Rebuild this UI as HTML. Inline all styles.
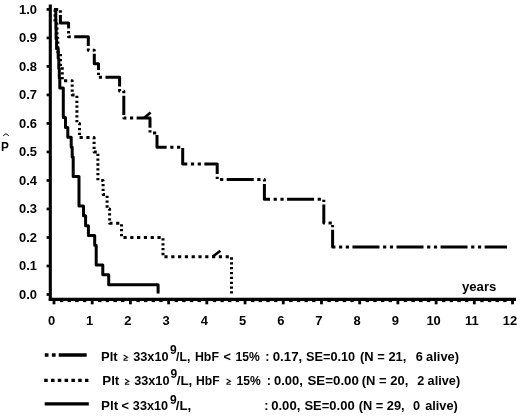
<!DOCTYPE html>
<html><head><meta charset="utf-8"><style>
html,body{margin:0;padding:0;background:#fff;}
body{width:520px;height:416px;overflow:hidden;}
svg{display:block;filter:blur(0.35px);}
</style></head><body>
<svg width="520" height="416" viewBox="0 0 520 416">
<rect width="520" height="416" fill="#fff"/>
<path d="M50.3,4.6 V301" stroke="#000" stroke-width="3.1" fill="none"/>
<path d="M48.8,299.45 H516" stroke="#000" stroke-width="3.3" fill="none"/>
<rect x="46.6" y="8.05" width="2.6" height="2.7" fill="#000"/>
<rect x="46.6" y="36.56" width="2.6" height="2.7" fill="#000"/>
<rect x="46.6" y="65.07" width="2.6" height="2.7" fill="#000"/>
<rect x="46.6" y="93.58" width="2.6" height="2.7" fill="#000"/>
<rect x="46.6" y="122.09" width="2.6" height="2.7" fill="#000"/>
<rect x="46.6" y="150.60" width="2.6" height="2.7" fill="#000"/>
<rect x="46.6" y="179.11" width="2.6" height="2.7" fill="#000"/>
<rect x="46.6" y="207.62" width="2.6" height="2.7" fill="#000"/>
<rect x="46.6" y="236.13" width="2.6" height="2.7" fill="#000"/>
<rect x="46.6" y="264.64" width="2.6" height="2.7" fill="#000"/>
<rect x="46.6" y="293.15" width="2.6" height="2.7" fill="#000"/>
<rect x="52.60" y="300" width="2.8" height="4.3" fill="#000"/>
<rect x="90.81" y="300" width="2.8" height="4.3" fill="#000"/>
<rect x="129.02" y="300" width="2.8" height="4.3" fill="#000"/>
<rect x="167.23" y="300" width="2.8" height="4.3" fill="#000"/>
<rect x="205.44" y="300" width="2.8" height="4.3" fill="#000"/>
<rect x="243.65" y="300" width="2.8" height="4.3" fill="#000"/>
<rect x="281.86" y="300" width="2.8" height="4.3" fill="#000"/>
<rect x="320.07" y="300" width="2.8" height="4.3" fill="#000"/>
<rect x="358.28" y="300" width="2.8" height="4.3" fill="#000"/>
<rect x="396.49" y="300" width="2.8" height="4.3" fill="#000"/>
<rect x="434.70" y="300" width="2.8" height="4.3" fill="#000"/>
<rect x="472.91" y="300" width="2.8" height="4.3" fill="#000"/>
<rect x="511.12" y="300" width="2.8" height="4.3" fill="#000"/>
<rect x="59.94" y="300.5" width="3.4" height="1.6" fill="#000"/>
<rect x="67.58" y="300.5" width="3.4" height="1.6" fill="#000"/>
<rect x="75.23" y="300.5" width="3.4" height="1.6" fill="#000"/>
<rect x="82.87" y="300.5" width="3.4" height="1.6" fill="#000"/>
<rect x="98.15" y="300.5" width="3.4" height="1.6" fill="#000"/>
<rect x="105.79" y="300.5" width="3.4" height="1.6" fill="#000"/>
<rect x="113.44" y="300.5" width="3.4" height="1.6" fill="#000"/>
<rect x="121.08" y="300.5" width="3.4" height="1.6" fill="#000"/>
<rect x="136.36" y="300.5" width="3.4" height="1.6" fill="#000"/>
<rect x="144.00" y="300.5" width="3.4" height="1.6" fill="#000"/>
<rect x="151.65" y="300.5" width="3.4" height="1.6" fill="#000"/>
<rect x="159.29" y="300.5" width="3.4" height="1.6" fill="#000"/>
<rect x="174.57" y="300.5" width="3.4" height="1.6" fill="#000"/>
<rect x="182.21" y="300.5" width="3.4" height="1.6" fill="#000"/>
<rect x="189.86" y="300.5" width="3.4" height="1.6" fill="#000"/>
<rect x="197.50" y="300.5" width="3.4" height="1.6" fill="#000"/>
<rect x="212.78" y="300.5" width="3.4" height="1.6" fill="#000"/>
<rect x="220.42" y="300.5" width="3.4" height="1.6" fill="#000"/>
<rect x="228.07" y="300.5" width="3.4" height="1.6" fill="#000"/>
<rect x="235.71" y="300.5" width="3.4" height="1.6" fill="#000"/>
<rect x="250.99" y="300.5" width="3.4" height="1.6" fill="#000"/>
<rect x="258.63" y="300.5" width="3.4" height="1.6" fill="#000"/>
<rect x="266.28" y="300.5" width="3.4" height="1.6" fill="#000"/>
<rect x="273.92" y="300.5" width="3.4" height="1.6" fill="#000"/>
<rect x="289.20" y="300.5" width="3.4" height="1.6" fill="#000"/>
<rect x="296.84" y="300.5" width="3.4" height="1.6" fill="#000"/>
<rect x="304.49" y="300.5" width="3.4" height="1.6" fill="#000"/>
<rect x="312.13" y="300.5" width="3.4" height="1.6" fill="#000"/>
<rect x="327.41" y="300.5" width="3.4" height="1.6" fill="#000"/>
<rect x="335.05" y="300.5" width="3.4" height="1.6" fill="#000"/>
<rect x="342.70" y="300.5" width="3.4" height="1.6" fill="#000"/>
<rect x="350.34" y="300.5" width="3.4" height="1.6" fill="#000"/>
<rect x="365.62" y="300.5" width="3.4" height="1.6" fill="#000"/>
<rect x="373.26" y="300.5" width="3.4" height="1.6" fill="#000"/>
<rect x="380.91" y="300.5" width="3.4" height="1.6" fill="#000"/>
<rect x="388.55" y="300.5" width="3.4" height="1.6" fill="#000"/>
<rect x="403.83" y="300.5" width="3.4" height="1.6" fill="#000"/>
<rect x="411.47" y="300.5" width="3.4" height="1.6" fill="#000"/>
<rect x="419.12" y="300.5" width="3.4" height="1.6" fill="#000"/>
<rect x="426.76" y="300.5" width="3.4" height="1.6" fill="#000"/>
<rect x="442.04" y="300.5" width="3.4" height="1.6" fill="#000"/>
<rect x="449.68" y="300.5" width="3.4" height="1.6" fill="#000"/>
<rect x="457.33" y="300.5" width="3.4" height="1.6" fill="#000"/>
<rect x="464.97" y="300.5" width="3.4" height="1.6" fill="#000"/>
<rect x="480.25" y="300.5" width="3.4" height="1.6" fill="#000"/>
<rect x="487.89" y="300.5" width="3.4" height="1.6" fill="#000"/>
<rect x="495.54" y="300.5" width="3.4" height="1.6" fill="#000"/>
<rect x="503.18" y="300.5" width="3.4" height="1.6" fill="#000"/>
<path d="M54,9.4 H55.8 V19.2 H55.9 V29.1 H56.1 V38.9 H56.6 V48.7 H58.2 V58.6 H58.8 V68.4 H59.3 V78.2 H59.8 V88.0 H63.3 V117.5 H65.5 V127.4 H67.8 V137.2 H71.2 V147.0 H72.2 V156.9 H73.2 V176.5 H79 V206.0 H83.5 V215.8 H85.6 V225.7 H88.4 V235.5 H94.7 V245.3 H96.2 V265.0 H102.8 V274.8 H108.7 V284.7 H158.1 V293.5" stroke="#000" stroke-width="3" fill="none" stroke-linejoin="round"/>
<path d="M55.00,9.44 L55.00,11.72 M55.00,14.29 L55.00,16.58 M55.00,19.15 L55.00,21.44 M55.43,23.70 L57.00,23.70 L57.00,24.86 M57.00,27.44 L57.00,29.72 M57.00,32.29 L57.00,34.58 M57.00,37.15 L57.00,37.90 L57.80,37.90 L57.80,38.86 M57.80,41.44 L57.80,43.72 M57.80,46.29 L57.80,48.58 M57.80,51.15 L57.80,52.20 L59.53,52.20 M60.50,54.08 L60.50,56.36 M60.50,58.94 L60.50,61.22 M60.50,63.79 L60.50,66.08 M62.30,67.36 L62.30,69.65 M62.30,72.22 L62.30,74.51 M62.30,77.08 L62.30,79.36 M64.03,80.70 L67.23,80.70 M70.83,80.70 L72.20,80.70 L72.20,82.01 M72.20,84.58 L72.20,86.86 M72.20,89.44 L72.20,91.72 M72.20,94.29 L72.20,94.90 L74.55,94.90 M76.90,95.79 L76.90,98.08 M76.90,100.65 L76.90,102.94 M76.90,105.51 L76.90,107.79 M76.90,110.36 L76.90,112.65 M76.90,115.22 L76.90,117.51 M76.90,120.08 L76.90,122.36 M79.05,123.40 L79.50,123.40 L79.50,125.36 M79.50,127.94 L79.50,130.22 M79.50,132.79 L79.50,135.08 M79.57,137.60 L82.77,137.60 M86.37,137.60 L89.57,137.60 M93.17,137.60 L94.10,137.60 L94.10,139.22 M94.10,141.79 L94.10,144.08 M94.10,146.65 L94.10,148.94 M94.10,151.51 L94.10,151.90 L96.75,151.90 M97.90,153.65 L97.90,155.94 M97.90,158.51 L97.90,160.79 M97.90,163.36 L97.90,165.65 M97.90,168.22 L97.90,170.51 M97.90,173.08 L97.90,175.36 M97.90,177.94 L97.90,180.22 M101.25,180.40 L103.10,180.40 L103.10,181.36 M103.10,183.94 L103.10,186.22 M103.10,188.79 L103.10,191.08 M103.10,193.65 L103.10,194.60 L104.97,194.60 M107.10,195.65 L107.10,197.94 M107.10,200.51 L107.10,202.79 M107.10,205.36 L107.10,207.65 M108.95,208.90 L109.60,208.90 L109.60,210.72 M109.60,213.29 L109.60,215.58 M109.60,218.15 L109.60,220.44 M109.60,223.01 L109.60,223.20 L112.53,223.20 M116.13,223.20 L119.33,223.20 M121.50,224.22 L121.50,226.51 M121.50,229.08 L121.50,231.36 M121.50,233.94 L121.50,236.22 M123.45,237.40 L126.65,237.40 M130.25,237.40 L133.45,237.40 M137.05,237.40 L140.25,237.40 M143.85,237.40 L147.05,237.40 M150.65,237.40 L153.85,237.40 M157.45,237.40 L160.65,237.40 M163.00,238.29 L163.00,240.58 M163.00,243.15 L163.00,245.44 M163.00,248.01 L163.00,250.29 M163.00,252.86 L163.00,255.15 M164.43,256.70 L167.63,256.70 M171.23,256.70 L174.43,256.70 M178.03,256.70 L181.23,256.70 M184.83,256.70 L188.03,256.70 M191.63,256.70 L194.83,256.70 M198.43,256.70 L201.63,256.70 M205.23,256.70 L208.43,256.70 M212.03,256.70 L215.23,256.70 M218.83,256.70 L222.03,256.70 M225.63,256.70 L228.83,256.70 M231.50,257.36 L231.50,259.65 M231.50,262.22 L231.50,264.51 M231.50,267.08 L231.50,269.36 M231.50,271.94 L231.50,274.22 M231.50,276.79 L231.50,279.08 M231.50,281.65 L231.50,283.94 M231.50,286.51 L231.50,288.79 M231.50,291.36 L231.50,293.50" stroke="#000" stroke-width="3" fill="none" stroke-linejoin="round"/>
<path d="M54.95,9.40 L58.15,9.40 M60.40,10.36 L60.40,12.65 M60.40,15.11 L60.40,23.10 L68.60,23.10 L68.60,28.54 M68.60,31.11 L68.60,33.40 M68.60,35.97 L68.60,36.70 L70.78,36.70 M74.23,36.70 L88.30,36.70 L88.30,45.94 M88.30,48.51 L88.30,50.20 L89.13,50.20 M92.73,50.20 L94.30,50.20 L94.30,51.36 M94.30,53.83 L94.30,63.70 L98.50,63.70 L98.50,70.11 M98.50,72.69 L98.50,74.97 M98.84,77.30 L102.04,77.30 M105.49,77.30 L119.60,77.30 L119.60,86.51 M119.60,89.08 L119.60,91.00 L120.11,91.00 M123.71,91.00 L123.80,91.00 L123.80,93.22 M123.80,95.69 L123.80,114.97 M123.80,117.54 L123.80,118.00 L126.36,118.00 M129.96,118.00 L133.16,118.00 M136.61,118.00 L150.00,118.00 L150.00,127.72 M150.00,130.29 L150.00,132.58 M153.01,133.00 L156.21,133.00 M157.00,134.90 L157.00,147.30 L166.64,147.30 M170.24,147.30 L173.44,147.30 M177.04,147.30 L180.24,147.30 M182.70,148.01 L182.70,164.00 L187.31,164.00 M190.91,164.00 L194.11,164.00 M197.71,164.00 L200.91,164.00 M204.36,164.00 L217.20,164.00 L217.20,174.11 M217.20,176.69 L217.20,178.97 M220.06,179.50 L223.26,179.50 M226.71,179.50 L253.71,179.50 M257.31,179.50 L260.51,179.50 M264.11,179.50 L264.40,179.50 L264.40,181.58 M264.40,184.04 L264.40,199.30 L270.04,199.30 M273.64,199.30 L276.84,199.30 M280.44,199.30 L283.64,199.30 M287.09,199.30 L314.09,199.30 M317.69,199.30 L320.89,199.30 M323.80,199.79 L323.80,202.08 M323.80,204.54 L323.80,223.00 L324.96,223.00 M328.56,223.00 L331.76,223.00 M332.60,224.97 L332.60,227.26 M332.60,229.72 L332.60,247.00 L335.41,247.00 M339.01,247.00 L342.21,247.00 M345.81,247.00 L349.01,247.00 M352.46,247.00 L379.46,247.00 M383.06,247.00 L386.26,247.00 M389.86,247.00 L393.06,247.00 M396.51,247.00 L423.51,247.00 M427.11,247.00 L430.31,247.00 M433.91,247.00 L437.11,247.00 M440.56,247.00 L467.56,247.00 M471.16,247.00 L474.36,247.00 M477.96,247.00 L481.16,247.00 M484.61,247.00 L507.00,247.00" stroke="#000" stroke-width="3" fill="none" stroke-linejoin="round"/>
<path d="M144,118 L150.6,112.4" stroke="#000" stroke-width="2.6"/>
<path d="M212.5,256.7 L220.4,250.8" stroke="#000" stroke-width="2.6"/>
<text transform="translate(37.00,13.70) scale(1.08,1)" font-family="Liberation Sans, sans-serif" font-weight="bold" font-size="12" text-anchor="end" xml:space="preserve">1.0</text>
<text transform="translate(37.00,42.21) scale(1.08,1)" font-family="Liberation Sans, sans-serif" font-weight="bold" font-size="12" text-anchor="end" xml:space="preserve">0.9</text>
<text transform="translate(37.00,70.72) scale(1.08,1)" font-family="Liberation Sans, sans-serif" font-weight="bold" font-size="12" text-anchor="end" xml:space="preserve">0.8</text>
<text transform="translate(37.00,99.23) scale(1.08,1)" font-family="Liberation Sans, sans-serif" font-weight="bold" font-size="12" text-anchor="end" xml:space="preserve">0.7</text>
<text transform="translate(37.00,127.74) scale(1.08,1)" font-family="Liberation Sans, sans-serif" font-weight="bold" font-size="12" text-anchor="end" xml:space="preserve">0.6</text>
<text transform="translate(37.00,156.25) scale(1.08,1)" font-family="Liberation Sans, sans-serif" font-weight="bold" font-size="12" text-anchor="end" xml:space="preserve">0.5</text>
<text transform="translate(37.00,184.76) scale(1.08,1)" font-family="Liberation Sans, sans-serif" font-weight="bold" font-size="12" text-anchor="end" xml:space="preserve">0.4</text>
<text transform="translate(37.00,213.27) scale(1.08,1)" font-family="Liberation Sans, sans-serif" font-weight="bold" font-size="12" text-anchor="end" xml:space="preserve">0.3</text>
<text transform="translate(37.00,241.78) scale(1.08,1)" font-family="Liberation Sans, sans-serif" font-weight="bold" font-size="12" text-anchor="end" xml:space="preserve">0.2</text>
<text transform="translate(37.00,270.29) scale(1.08,1)" font-family="Liberation Sans, sans-serif" font-weight="bold" font-size="12" text-anchor="end" xml:space="preserve">0.1</text>
<text transform="translate(37.00,298.80) scale(1.08,1)" font-family="Liberation Sans, sans-serif" font-weight="bold" font-size="12" text-anchor="end" xml:space="preserve">0.0</text>
<text transform="translate(51.50,324.60) scale(1.08,1)" font-family="Liberation Sans, sans-serif" font-weight="bold" font-size="12" text-anchor="middle" xml:space="preserve">0</text>
<text transform="translate(89.71,324.60) scale(1.08,1)" font-family="Liberation Sans, sans-serif" font-weight="bold" font-size="12" text-anchor="middle" xml:space="preserve">1</text>
<text transform="translate(127.92,324.60) scale(1.08,1)" font-family="Liberation Sans, sans-serif" font-weight="bold" font-size="12" text-anchor="middle" xml:space="preserve">2</text>
<text transform="translate(166.13,324.60) scale(1.08,1)" font-family="Liberation Sans, sans-serif" font-weight="bold" font-size="12" text-anchor="middle" xml:space="preserve">3</text>
<text transform="translate(204.34,324.60) scale(1.08,1)" font-family="Liberation Sans, sans-serif" font-weight="bold" font-size="12" text-anchor="middle" xml:space="preserve">4</text>
<text transform="translate(242.55,324.60) scale(1.08,1)" font-family="Liberation Sans, sans-serif" font-weight="bold" font-size="12" text-anchor="middle" xml:space="preserve">5</text>
<text transform="translate(280.76,324.60) scale(1.08,1)" font-family="Liberation Sans, sans-serif" font-weight="bold" font-size="12" text-anchor="middle" xml:space="preserve">6</text>
<text transform="translate(318.97,324.60) scale(1.08,1)" font-family="Liberation Sans, sans-serif" font-weight="bold" font-size="12" text-anchor="middle" xml:space="preserve">7</text>
<text transform="translate(357.18,324.60) scale(1.08,1)" font-family="Liberation Sans, sans-serif" font-weight="bold" font-size="12" text-anchor="middle" xml:space="preserve">8</text>
<text transform="translate(395.39,324.60) scale(1.08,1)" font-family="Liberation Sans, sans-serif" font-weight="bold" font-size="12" text-anchor="middle" xml:space="preserve">9</text>
<text transform="translate(433.60,324.60) scale(1.08,1)" font-family="Liberation Sans, sans-serif" font-weight="bold" font-size="12" text-anchor="middle" xml:space="preserve">10</text>
<text transform="translate(471.81,324.60) scale(1.08,1)" font-family="Liberation Sans, sans-serif" font-weight="bold" font-size="12" text-anchor="middle" xml:space="preserve">11</text>
<text transform="translate(510.02,324.60) scale(1.08,1)" font-family="Liberation Sans, sans-serif" font-weight="bold" font-size="12" text-anchor="middle" xml:space="preserve">12</text>
<text transform="translate(462.00,290.90) scale(1.095,1)" font-family="Liberation Sans, sans-serif" font-weight="bold" font-size="12" xml:space="preserve">years</text>
<text transform="translate(1.00,150.60) scale(0.95,1)" font-family="Liberation Sans, sans-serif" font-weight="bold" font-size="12.4" xml:space="preserve">P</text>
<path d="M3.2,135.8 L6,133.6 L8.8,135.8" stroke="#000" stroke-width="1" fill="none"/>
<path d="M44.8,355 H87" stroke="#000" stroke-width="3.3" stroke-dasharray="3.7 3.4 3.7 3.1 28 100"/>
<path d="M44.2,380.3 H88.4" stroke="#000" stroke-width="3.3" stroke-dasharray="3.5 3.3"/>
<path d="M44.7,403.9 H88.8" stroke="#000" stroke-width="3.3"/>
<text transform="translate(101.01,360.80) scale(1.086,1)" font-family="Liberation Sans, sans-serif" font-weight="bold" font-size="12" xml:space="preserve">Plt</text>
<path d="M123.60,355.10 L127.40,357.30 L123.60,359.50 M123.40,360.25 H127.90" stroke="#111" stroke-width="1.15" fill="none"/>
<text transform="translate(133.24,360.80) scale(1.059,1)" font-family="Liberation Sans, sans-serif" font-weight="bold" font-size="12" xml:space="preserve">33x10</text>
<text transform="translate(170.00,353.60) scale(1.0,1)" font-family="Liberation Sans, sans-serif" font-weight="bold" font-size="12" xml:space="preserve">9</text>
<text transform="translate(176.10,360.80) scale(1.015,1)" font-family="Liberation Sans, sans-serif" font-weight="bold" font-size="12" xml:space="preserve">/L,</text>
<text transform="translate(194.97,360.80) scale(1.027,1)" font-family="Liberation Sans, sans-serif" font-weight="bold" font-size="12" xml:space="preserve">HbF</text>
<text transform="translate(223.54,360.80) scale(1.06,1)" font-family="Liberation Sans, sans-serif" font-weight="bold" font-size="12" xml:space="preserve">&lt;</text>
<text transform="translate(235.49,360.80) scale(1.009,1)" font-family="Liberation Sans, sans-serif" font-weight="bold" font-size="12" xml:space="preserve">15%</text>
<text transform="translate(265.24,360.80) scale(1.06,1)" font-family="Liberation Sans, sans-serif" font-weight="bold" font-size="12" xml:space="preserve">:</text>
<text transform="translate(272.69,360.80) scale(1.108,1)" font-family="Liberation Sans, sans-serif" font-weight="bold" font-size="12" xml:space="preserve">0.17,</text>
<text transform="translate(306.04,360.80) scale(1.06,1)" font-family="Liberation Sans, sans-serif" font-weight="bold" font-size="12" xml:space="preserve">SE=0.10</text>
<text transform="translate(360.02,360.80) scale(1.08,1)" font-family="Liberation Sans, sans-serif" font-weight="bold" font-size="12" xml:space="preserve">(N = 21,</text>
<text transform="translate(415.70,360.80) scale(1.06,1)" font-family="Liberation Sans, sans-serif" font-weight="bold" font-size="12" xml:space="preserve">6</text>
<text transform="translate(426.10,360.80) scale(1.073,1)" font-family="Liberation Sans, sans-serif" font-weight="bold" font-size="12" xml:space="preserve">alive)</text>
<text transform="translate(102.29,384.80) scale(1.107,1)" font-family="Liberation Sans, sans-serif" font-weight="bold" font-size="12" xml:space="preserve">Plt</text>
<path d="M125.00,379.10 L128.80,381.30 L125.00,383.50 M124.80,384.25 H129.30" stroke="#111" stroke-width="1.15" fill="none"/>
<text transform="translate(134.24,384.80) scale(1.056,1)" font-family="Liberation Sans, sans-serif" font-weight="bold" font-size="12" xml:space="preserve">33x10</text>
<text transform="translate(170.60,377.60) scale(1.0,1)" font-family="Liberation Sans, sans-serif" font-weight="bold" font-size="12" xml:space="preserve">9</text>
<text transform="translate(176.70,384.80) scale(1.115,1)" font-family="Liberation Sans, sans-serif" font-weight="bold" font-size="12" xml:space="preserve">/L,</text>
<text transform="translate(195.99,384.80) scale(1.014,1)" font-family="Liberation Sans, sans-serif" font-weight="bold" font-size="12" xml:space="preserve">HbF</text>
<path d="M226.60,379.10 L230.40,381.30 L226.60,383.50 M226.40,384.25 H230.90" stroke="#111" stroke-width="1.15" fill="none"/>
<text transform="translate(236.49,384.80) scale(1.009,1)" font-family="Liberation Sans, sans-serif" font-weight="bold" font-size="12" xml:space="preserve">15%</text>
<text transform="translate(266.64,384.80) scale(1.06,1)" font-family="Liberation Sans, sans-serif" font-weight="bold" font-size="12" xml:space="preserve">:</text>
<text transform="translate(273.92,384.80) scale(1.084,1)" font-family="Liberation Sans, sans-serif" font-weight="bold" font-size="12" xml:space="preserve">0.00,</text>
<text transform="translate(307.49,384.80) scale(1.109,1)" font-family="Liberation Sans, sans-serif" font-weight="bold" font-size="12" xml:space="preserve">SE=0.00</text>
<text transform="translate(361.72,384.80) scale(1.083,1)" font-family="Liberation Sans, sans-serif" font-weight="bold" font-size="12" xml:space="preserve">(N = 20,</text>
<text transform="translate(417.20,384.80) scale(1.06,1)" font-family="Liberation Sans, sans-serif" font-weight="bold" font-size="12" xml:space="preserve">2</text>
<text transform="translate(427.60,384.80) scale(1.06,1)" font-family="Liberation Sans, sans-serif" font-weight="bold" font-size="12" xml:space="preserve">alive)</text>
<text transform="translate(101.08,409.60) scale(1.12,1)" font-family="Liberation Sans, sans-serif" font-weight="bold" font-size="12" xml:space="preserve">Plt</text>
<text transform="translate(121.44,409.60) scale(1.06,1)" font-family="Liberation Sans, sans-serif" font-weight="bold" font-size="12" xml:space="preserve">&lt;</text>
<text transform="translate(132.84,409.60) scale(1.056,1)" font-family="Liberation Sans, sans-serif" font-weight="bold" font-size="12" xml:space="preserve">33x10</text>
<text transform="translate(169.90,404.00) scale(1.0,1)" font-family="Liberation Sans, sans-serif" font-weight="bold" font-size="12" xml:space="preserve">9</text>
<text transform="translate(175.80,409.60) scale(1.108,1)" font-family="Liberation Sans, sans-serif" font-weight="bold" font-size="12" xml:space="preserve">/L,</text>
<text transform="translate(264.14,409.60) scale(1.06,1)" font-family="Liberation Sans, sans-serif" font-weight="bold" font-size="12" xml:space="preserve">:</text>
<text transform="translate(271.21,409.60) scale(1.092,1)" font-family="Liberation Sans, sans-serif" font-weight="bold" font-size="12" xml:space="preserve">0.00,</text>
<text transform="translate(304.42,409.60) scale(1.084,1)" font-family="Liberation Sans, sans-serif" font-weight="bold" font-size="12" xml:space="preserve">SE=0.00</text>
<text transform="translate(358.73,409.60) scale(1.068,1)" font-family="Liberation Sans, sans-serif" font-weight="bold" font-size="12" xml:space="preserve">(N = 29,</text>
<text transform="translate(413.04,409.60) scale(1.06,1)" font-family="Liberation Sans, sans-serif" font-weight="bold" font-size="12" xml:space="preserve">0</text>
<text transform="translate(425.20,409.60) scale(1.06,1)" font-family="Liberation Sans, sans-serif" font-weight="bold" font-size="12" xml:space="preserve">alive)</text>
</svg>
</body></html>
